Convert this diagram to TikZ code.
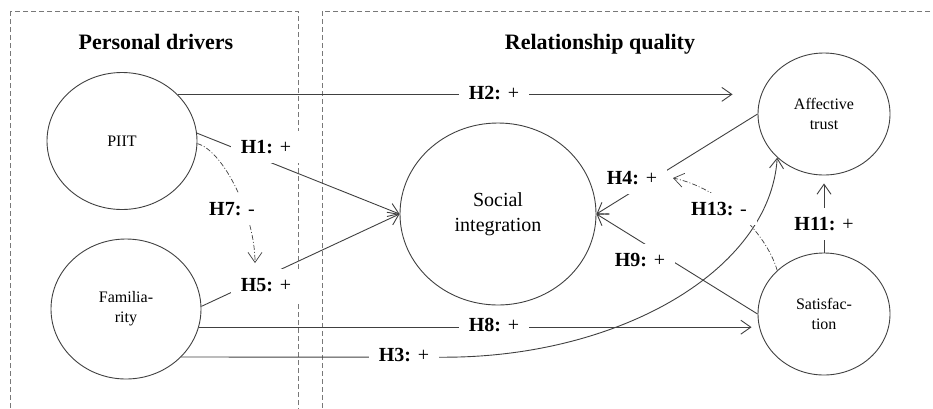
\documentclass[tikz,border=0pt]{standalone}
\usepackage{fontspec}
\setmainfont{Liberation Serif}
\usetikzlibrary{arrows.meta,shapes.geometric}
\definecolor{linecol}{RGB}{64,64,64}
\definecolor{boxcol}{RGB}{120,120,120}
\begin{document}
\begin{tikzpicture}[x=1pt,y=-1pt,
  construct/.style={ellipse, draw=linecol, line width=0.9pt, inner sep=0pt, align=center, font=\fontsize{16}{20}\selectfont},
  lab/.style={fill=white, inner xsep=10pt, inner ysep=9pt, font=\fontsize{20}{24}\selectfont},
  title/.style={font=\fontsize{22}{26}\selectfont\bfseries, anchor=base},
  arr/.style={draw=linecol, line width=0.9pt, -{Straight Barb[length=10pt,width=14pt]}},
  dd/.style={arr, line width=0.7pt, dash pattern=on 5pt off 2pt on 1pt off 2pt},
  region/.style={draw=boxcol, line width=0.9pt, dash pattern=on 5pt off 3pt}]
\useasboundingbox (0,0) rectangle (933,408);
\begin{scope}
  \clip (0,0) rectangle (933,408);
  \draw[region] (10,11) rectangle (298,420);
  \draw[region] (322,11) rectangle (945,420);
\end{scope}

% titles
\node[title] (t1) at (156,49) {Personal drivers};
\node[title] (t2) at (600,49) {Relationship quality};

% constructs
\node[construct, minimum width=150pt, minimum height=137pt] (PIIT) at (122,141) {PIIT};
\node[construct, minimum width=150pt, minimum height=140pt] (Fam) at (126,309) {Familia-\\rity};
\node[construct, minimum width=196pt, minimum height=182pt, font=\fontsize{20}{25}\selectfont] (SI) at (498,214) {Social\\integration};
\node[construct, minimum width=132pt, minimum height=122pt] (AT) at (824,114) {Affective\\trust};
\node[construct, minimum width=132pt, minimum height=122pt] (Sat) at (824,314) {Satisfac-\\tion};

% helper coordinates
\coordinate (h3bend) at (445,357.2);
\coordinate (h7end) at (255,263);
\coordinate (h13end) at (673,178);

% connectors
\draw[arr] (PIIT.6) -- (SI.west);
\draw[arr] (Fam.2) -- (SI.west);
\draw[arr, shorten >=25pt] (PIIT.40) -- (PIIT.40 -| AT.west);
\draw[arr, shorten >=6pt] (Fam.-14) -- (Fam.-14 -| Sat.west);
\draw[arr] (AT.west) -- (SI.east);
\draw[arr] (Sat.west) -- (SI.east);
\draw[arr, shorten >=8pt] (Sat.north) -- (AT.south);
\draw[dd] (PIIT.-2) .. controls +(26,7) and +(0,-48) .. (h7end);
\draw[dd] (Sat.137) .. controls +(-12,-40) and +(47,10) .. (h13end);
\draw[arr] (Fam.-41.6) -- (h3bend) .. controls (620,357) and (770,270) .. (AT.223);

% labels
\node[lab] (h1) at (266,147) {\textbf{H1:} +};
\node[lab] (h2) at (494,93) {\textbf{H2:} +};
\node[lab] (h3) at (404,355) {\textbf{H3:} +};
\node[lab] (h4) at (632,178) {\textbf{H4:} +};
\node[lab] (h5) at (266,285) {\textbf{H5:} +};
\node[lab] (h7) at (232,209) {\textbf{H7:} -};
\node[lab] (h8) at (494,325) {\textbf{H8:} +};
\node[lab] (h9) at (640,260) {\textbf{H9:} +};
\node[lab] (h11) at (824,224) {\textbf{H11:} +};
\node[lab] (h13) at (719,209) {\textbf{H13:} -};
\end{tikzpicture}
\end{document}
